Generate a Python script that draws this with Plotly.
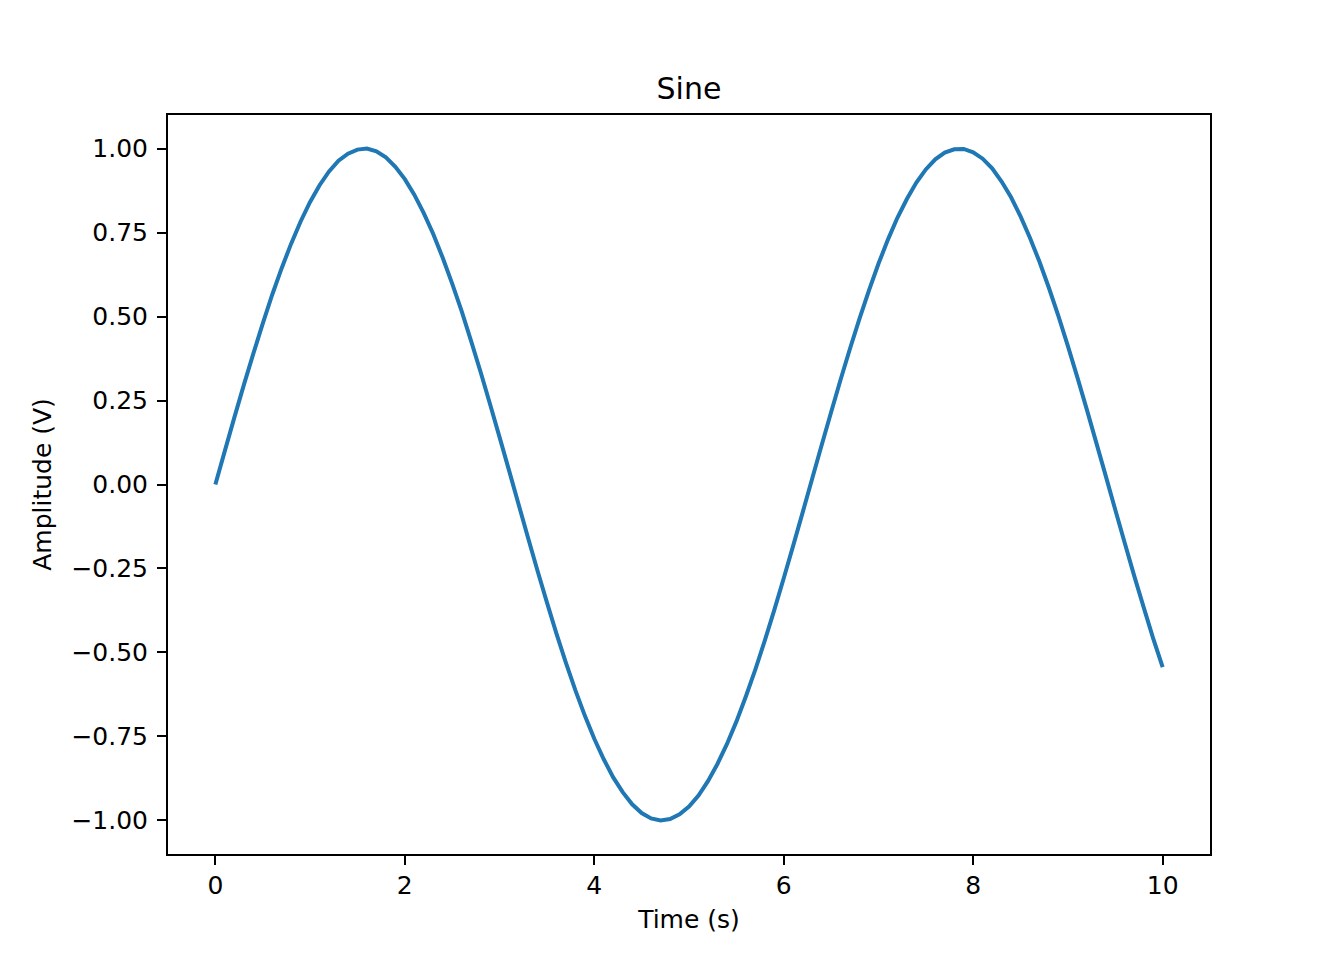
import plotly.graph_objects as go

time_s = [0.0, 0.1, 0.2, 0.3, 0.4, 0.5, 0.6, 0.7, 0.8, 0.9,
          1.0, 1.1, 1.2, 1.3, 1.4, 1.5, 1.6, 1.7, 1.8, 1.9,
          2.0, 2.1, 2.2, 2.3, 2.4, 2.5, 2.6, 2.7, 2.8, 2.9,
          3.0, 3.1, 3.2, 3.3, 3.4, 3.5, 3.6, 3.7, 3.8, 3.9,
          4.0, 4.1, 4.2, 4.3, 4.4, 4.5, 4.6, 4.7, 4.8, 4.9,
          5.0, 5.1, 5.2, 5.3, 5.4, 5.5, 5.6, 5.7, 5.8, 5.9,
          6.0, 6.1, 6.2, 6.3, 6.4, 6.5, 6.6, 6.7, 6.8, 6.9,
          7.0, 7.1, 7.2, 7.3, 7.4, 7.5, 7.6, 7.7, 7.8, 7.9,
          8.0, 8.1, 8.2, 8.3, 8.4, 8.5, 8.6, 8.7, 8.8, 8.9,
          9.0, 9.1, 9.2, 9.3, 9.4, 9.5, 9.6, 9.7, 9.8, 9.9, 10.0]
amplitude_v = [0.000, 0.100, 0.199, 0.296, 0.389, 0.479, 0.565, 0.644, 0.717, 0.783,
               0.841, 0.891, 0.932, 0.964, 0.985, 0.997, 1.000, 0.992, 0.974, 0.946,
               0.909, 0.863, 0.808, 0.746, 0.675, 0.598, 0.516, 0.427, 0.335, 0.239,
               0.141, 0.042, -0.058, -0.158, -0.256, -0.351, -0.443, -0.530, -0.612, -0.688,
               -0.757, -0.818, -0.872, -0.916, -0.952, -0.978, -0.994, -1.000, -0.996, -0.982,
               -0.959, -0.926, -0.883, -0.832, -0.773, -0.706, -0.631, -0.551, -0.465, -0.374,
               -0.279, -0.182, -0.083, 0.017, 0.117, 0.215, 0.312, 0.405, 0.494, 0.578,
               0.657, 0.729, 0.794, 0.850, 0.899, 0.938, 0.968, 0.988, 0.998, 0.999,
               0.989, 0.970, 0.941, 0.902, 0.855, 0.798, 0.734, 0.663, 0.585, 0.501,
               0.412, 0.319, 0.223, 0.124, 0.025, -0.075, -0.174, -0.272, -0.366, -0.458, -0.544]

x_ticks = [0, 2, 4, 6, 8, 10]
y_ticks = [1.0, 0.75, 0.5, 0.25, 0.0, -0.25, -0.5, -0.75, -1.0]
y_tick_text = ["1.00", "0.75", "0.50", "0.25", "0.00", "\u22120.25", "\u22120.50", "\u22120.75", "\u22121.00"]

FONT = "DejaVu Sans"

fig = go.Figure()
fig.add_trace(go.Scatter(x=time_s, y=amplitude_v, mode="lines",
                         line=dict(color="#1f77b4", width=4, simplify=False),
                         showlegend=False, hoverinfo="skip"))

axis_common = dict(showline=True, mirror=True, linecolor="black", linewidth=2,
                   ticks="outside", ticklen=9, tickwidth=2, tickcolor="black",
                   showgrid=False, zeroline=False,
                   tickfont=dict(family=FONT, size=25, color="black"))

fig.update_layout(
    width=1344, height=960,
    paper_bgcolor="white", plot_bgcolor="white",
    margin=dict(l=160, r=142, t=107, b=114),
    font=dict(family=FONT, color="black"),
    title=dict(text="Sine", x=0.5, xanchor="center", xref="paper",
               y=1 - 80/960, yanchor="middle", yref="container",
               font=dict(family=FONT, size=30, color="black")),
    xaxis=dict(range=[-0.5, 10.5], tickvals=x_ticks, ticktext=[str(v) for v in x_ticks],
               title=dict(text="Time (s)", font=dict(family=FONT, size=25, color="black"), standoff=11),
               ticklabelstandoff=-1, **axis_common),
    yaxis=dict(range=[-1.1, 1.1], tickvals=y_ticks, ticktext=y_tick_text,
               title=dict(text="Amplitude (V)", font=dict(family=FONT, size=25, color="black"), standoff=13),
               ticklabelstandoff=4, **axis_common),
)

fig.write_html("out.html")
